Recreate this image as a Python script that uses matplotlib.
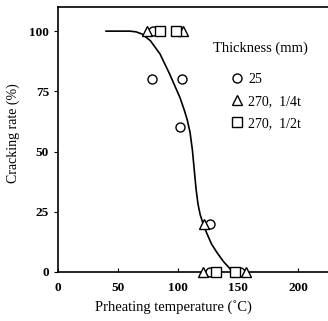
import numpy as np
import matplotlib.pyplot as plt
from matplotlib.lines import Line2D

# dados
circ_x = [78, 79, 103, 102, 127, 127, 152]
circ_y = [80, 100, 80, 60, 20, 0, 0]
tri_x = [74, 104, 122, 121, 157]
tri_y = [100, 100, 20, 0, 0]
sq_x = [85, 98, 132, 147.5]
sq_y = [100, 100, 0, 0]

# curva ajustada (lida ponto a ponto)
curve_x = [40, 50, 60, 65, 70, 77, 85, 93, 101.7, 105, 107.5, 110, 112, 113.5,
           115, 116.7, 118.5, 120.8, 124, 128, 132.5, 138, 143, 145]
curve_y = [100, 100, 100, 99.7, 98.8, 96, 90.5, 82.2, 72.3, 67.5, 63.5, 58, 50.5, 42.5,
           34.5, 28, 23.7, 20.2, 16, 11.5, 8, 4.2, 1.5, 0]

plt.rcParams['font.family'] = ['Liberation Serif', 'DejaVu Serif']
plt.rcParams['font.size'] = 9

fig = plt.figure(figsize=(3.28, 3.21), dpi=100)
ax = fig.add_axes([0.177, 0.153, 0.823, 0.825])

ax.plot(curve_x, curve_y, color='black', lw=1.2)
mk = dict(linestyle='none', mfc='white', mec='black', mew=1.0, ms=6.5)
ax.plot(circ_x, circ_y, marker='o', **mk, zorder=3, clip_on=False)
ax.plot(tri_x, tri_y, marker='^', **mk, zorder=3, clip_on=False)
ax.plot(sq_x, sq_y, marker='s', **mk, zorder=3, clip_on=False)

ax.set_xlim(0, 225)
ax.set_ylim(0, 110)
ax.set_xticks([0, 50, 100, 150, 200])
ax.set_yticks([0, 25, 50, 75, 100])
ax.tick_params(axis='x', direction='in', length=3, pad=7, labelsize=9.5)
ax.tick_params(axis='y', direction='out', length=3, labelsize=9.5)
for lb in ax.get_xticklabels() + ax.get_yticklabels():
    lb.set_fontweight('bold')
ax.spines['right'].set_visible(False)
for s in ['left', 'bottom', 'top']:
    ax.spines[s].set_linewidth(1.2)

ax.set_xlabel('Prheating temperature (\u02daC)', fontsize=10.5)
ax.xaxis.set_label_coords((173 - 58) / 270, -0.105)
ax.set_ylabel('Cracking rate (%)', fontsize=10)
ax.yaxis.set_label_coords(-0.14, 0.525)

# legenda
ax.text(0.574, 0.845, 'Thickness (mm)', fontsize=10.5, va='center', ha='left',
        transform=ax.transAxes)
handles = [
    Line2D([], [], marker='o', **mk),
    Line2D([], [], marker='^', **mk),
    Line2D([], [], marker='s', **mk),
]
ax.legend(handles, ['25', '270,  1/4t', '270,  1/2t'],
          frameon=False, loc='upper left', bbox_to_anchor=(0.637, 0.75),
          borderpad=0, borderaxespad=0, handlelength=1.0, handletextpad=0.3,
          labelspacing=0.65, fontsize=10)

plt.savefig('out.png', dpi=100)
